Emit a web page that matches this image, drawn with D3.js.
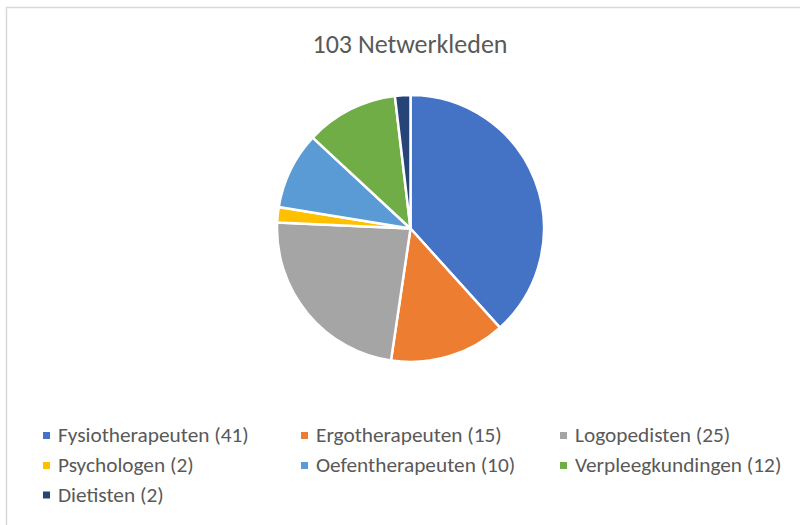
<!DOCTYPE html>
<html><head><meta charset="utf-8">
<script src="https://cdn.jsdelivr.net/npm/d3@7"></script>
<style>html,body{margin:0;padding:0;background:#fff;overflow:hidden}</style>
</head><body>
<svg id="chart" width="800" height="525"></svg>
<script>
const categories = ["Fysiotherapeuten (41)","Ergotherapeuten (15)","Logopedisten (25)","Psychologen (2)","Oefentherapeuten (10)","Verpleegkundingen (12)","Dietisten (2)"];
const values = [41, 15, 25, 2, 10, 12, 2];
const colors = ["#4472C4","#ED7D31","#A5A5A5","#FFC000","#5B9BD5","#70AD47","#264478"];
const title = "103 Netwerkleden";

const svg = d3.select("#chart");
const font = "Calibri, Carlito, 'Open Sans', sans-serif";

svg.append("rect").attr("x",6.5).attr("y",7.5).attr("width",820).attr("height",540)
  .attr("fill","#fff").attr("stroke","#d9d9d9").attr("stroke-width",1.5);

svg.append("text").attr("x",410).attr("y",53).attr("text-anchor","middle")
  .attr("font-family",font).attr("font-size",26).attr("fill","#595959").text(title);

const cx = 410.5, cy = 228.5, r = 133.5;
const pie = d3.pie().sort(null).value(d=>d);
const arc = d3.arc().innerRadius(0).outerRadius(r);
const g = svg.append("g").attr("transform",`translate(${cx},${cy})`);
g.selectAll("path").data(pie(values)).join("path")
  .attr("d",arc).attr("fill",(d,i)=>colors[i])
  .attr("stroke","#fff").attr("stroke-width",2.5).attr("stroke-linejoin","round");

const colX = [43, 301, 560];
const rowY = [442, 472, 501.5];
const lg = svg.append("g");
categories.forEach((c,i)=>{
  const x = colX[i%3], y = rowY[Math.floor(i/3)];
  lg.append("rect").attr("x",x).attr("y",y-10).attr("width",7).attr("height",7).attr("fill",colors[i]);
  lg.append("text").attr("x",x+15).attr("y",y)
    .attr("font-family",font).attr("font-size",21.3).attr("fill","#595959").text(c);
});
</script>
</body></html>
